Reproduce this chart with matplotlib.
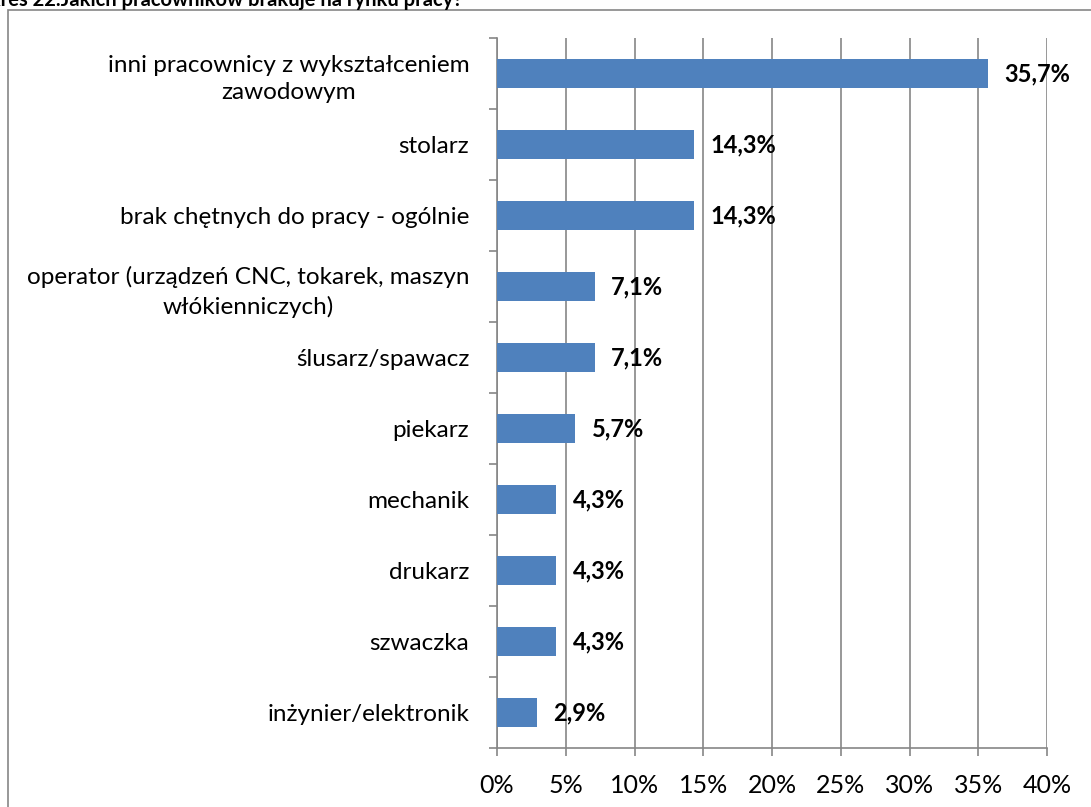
import matplotlib.pyplot as plt
from matplotlib.patches import Rectangle
from matplotlib.ticker import MultipleLocator, FuncFormatter, FixedLocator

# data, top to bottom as in the chart
categories = [
    "inni pracownicy z wykształceniem\nzawodowym",
    "stolarz",
    "brak chętnych do pracy - ogólnie",
    "operator (urządzeń CNC, tokarek, maszyn\nwłókienniczych)",
    "ślusarz/spawacz",
    "piekarz",
    "mechanik",
    "drukarz",
    "szwaczka",
    "inżynier/elektronik",
]
values = [35.7, 14.3, 14.3, 7.1, 7.1, 5.7, 4.3, 4.3, 4.3, 2.9]
title = "Wykres 22.Jakich pracowników brakuje na rynku pracy?"

plt.rcParams['font.family'] = ['Lato', 'DejaVu Sans']
bar_color = "#4F81BD"
grid_color = "#868686"

W, H = 1091, 807
fig = plt.figure(figsize=(W / 100, H / 100), dpi=100)

# outer chart border (continues past right/bottom edge of the image)
fig.patches.append(Rectangle((8 / W, -0.1), 1.2, 1 - 10 / H + 0.1,
                             transform=fig.transFigure, fill=False,
                             edgecolor=grid_color, linewidth=1.2))
# title, cut off by the top of the image
fig.text(-42 / W, 1.0, title, ha='left', va='center', fontsize=14.5,
         fontweight='bold')

ax = fig.add_axes([497 / W, 1 - 748 / H, 550 / W, 710 / H])
n = len(categories)
pos = list(range(n))
ax.barh(pos, values, height=0.4, color=bar_color, zorder=3)
ax.set_ylim(n - 0.5, -0.5)
ax.set_xlim(0, 40)

ax.xaxis.set_major_locator(MultipleLocator(5))
ax.xaxis.set_major_formatter(FuncFormatter(lambda v, p: f"{v:.0f}%"))
ax.grid(axis='x', color=grid_color, linewidth=1.2, zorder=0)

ax.set_yticks(pos)
ax.set_yticklabels(categories, fontsize=17.5, linespacing=1.4)
ax.yaxis.set_minor_locator(FixedLocator([i - 0.5 for i in range(n + 1)]))
ax.tick_params(axis='y', which='major', length=0, pad=20)
ax.tick_params(axis='y', which='minor', length=6, color=grid_color, width=1.2)
ax.tick_params(axis='x', length=6, color=grid_color, width=1.2, labelsize=18, pad=13)
for lbl in ax.get_yticklabels():
    lbl.set_horizontalalignment('right')
    lbl.set_multialignment('center')

for s in ['top', 'right']:
    ax.spines[s].set_visible(False)
for s in ['left', 'bottom']:
    ax.spines[s].set_color(grid_color)
    ax.spines[s].set_linewidth(1.2)

for p, v in zip(pos, values):
    ax.annotate(f"{v:.1f}%".replace('.', ','), (v, p), xytext=(12, 0),
                textcoords='offset points', va='center', ha='left',
                fontsize=17, fontweight='bold', zorder=4)

fig.savefig("out.png", dpi=100)
